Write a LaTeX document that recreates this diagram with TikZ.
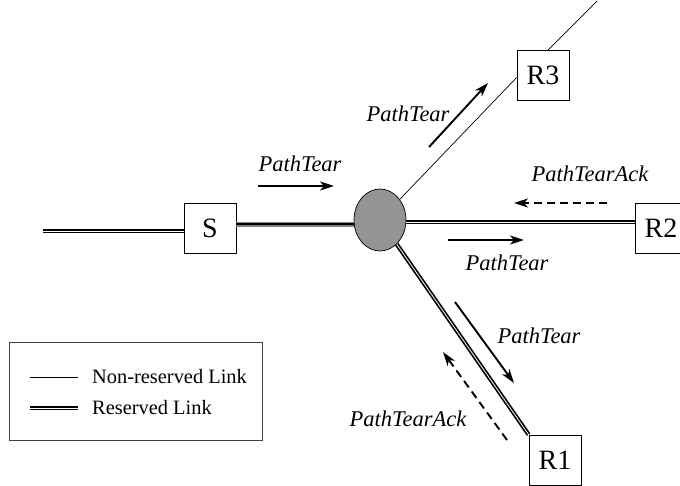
\documentclass[tikz,border=0pt]{standalone}
\usepackage{fontspec}
\setmainfont{Liberation Serif}
\usetikzlibrary{arrows.meta,shapes.geometric}

\tikzset{
	router/.style={draw, fill=white, line width=0.7pt, minimum width=52pt, minimum height=50pt, inner sep=0pt, font=\fontsize{28}{30}\selectfont},
	plain/.style={line width=0.7pt},
	reserved/.style={double, double distance=0.8pt, line width=1.7pt},
	tearing/.style={draw=black!50, double=black, double distance=1.4pt, line width=1.8pt},
	msg/.style={line width=1.9pt, -{Stealth[length=14pt,width=9pt,inset=4pt]}},
	ack/.style={msg, dash pattern=on 8pt off 5pt},
	lbl/.style={font=\fontsize{22.5}{24}\selectfont\itshape},
	legtext/.style={anchor=west, inner sep=0pt, font=\fontsize{20.4}{22}\selectfont},
}

\begin{document}
\begin{tikzpicture}[x=1pt,y=-1pt]
	\useasboundingbox (0,0) rectangle (680,485);
	
	%Knoten
	\node[router] (S) at (210,228) {S};
	\node[ellipse, draw, fill=black!42, line width=0.7pt, minimum width=52pt, minimum height=62pt, inner sep=0pt] (ell) at (380,220) {};
	\node[router] (R3) at (543,75.5) {R3};
	\node[router] (R2) at (661,228) {R2};
	\node[router] (R1) at (555,460) {R1};
	
	%Links
	\coordinate (in) at (43,231);
	\draw[reserved] (in) -- (in -| S.west);
	\draw[tearing] ([yshift=4pt]S.east) -- ([yshift=4pt]S.east -| ell.west);
	\draw[reserved] ([yshift=6pt]R2.west) -- ([yshift=6pt]R2.west -| ell.east);
	\draw[reserved] (ell) -- (R1.north west);
	\draw[plain] (ell) -- ([yshift=-2pt]R3.west);
	\coordinate (top) at (597,1);
	\draw[plain] ([xshift=5pt]R3.north) -- (top);
	
	%Nachrichten
	\coordinate (s1) at (258,186); \coordinate (e1) at (334,186);
	\draw[msg] (s1) -- (e1);
	\node[lbl] (t1) at (300,164) {PathTear};
	
	\coordinate (s2) at (429,147); \coordinate (e2) at (488,83);
	\draw[msg] (s2) -- (e2);
	\node[lbl] (t2) at (408,114) {PathTear};
	
	\coordinate (s3) at (607,203); \coordinate (e3) at (514,203);
	\draw[ack] (s3) -- (e3);
	\node[lbl] (t3) at (590,174) {PathTearAck};
	
	\coordinate (s4) at (448,240); \coordinate (e4) at (524,240);
	\draw[msg] (s4) -- (e4);
	\node[lbl] (t4) at (507,263) {PathTear};
	
	\coordinate (s5) at (455,302); \coordinate (e5) at (514,383);
	\draw[msg] (s5) -- (e5);
	\node[lbl] (t5) at (539,336) {PathTear};
	
	\coordinate (s6) at (507,440); \coordinate (e6) at (443,352);
	\draw[ack] (s6) -- (e6);
	\node[lbl] (t6) at (408,419) {PathTearAck};
	
	%Legende
	\node[draw=black!75, line width=0.8pt, minimum width=253pt, minimum height=98pt, inner sep=0pt] (legend) at (135.5,391) {};
	\coordinate (l1a) at (30,377); \coordinate (l1b) at (78,377);
	\draw[plain] (l1a) -- (l1b);
	\node[legtext] (n1) at (92,377) {Non-reserved Link};
	\coordinate (l2a) at (30,408); \coordinate (l2b) at (78,408);
	\draw[reserved] (l2a) -- (l2b);
	\node[legtext] (n2) at (92,408) {Reserved Link};
\end{tikzpicture}
\end{document}
